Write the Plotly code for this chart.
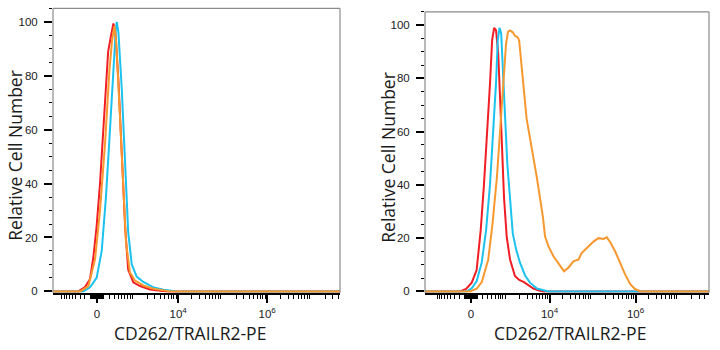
import numpy as np
import plotly.graph_objects as go

# ---------------- data (fluorescence intensity vs relative cell number) ----------------
left_red_x = [-2000, -338, -199, -111, -56, -7, 46, 98, 159, 182, 237, 285, 327, 404, 498, 606, 722, 956, 1370, 2313, 3939, 6000, 1e8]
left_red_y = [0, 0, 1.6, 4.6, 13, 24, 40, 59, 80, 89, 95, 99.4, 96.5, 78, 51, 24, 8, 3.4, 2, 0.7, 0.25, 0, 0]

left_cyan_x = [-2000, -233, -111, -7, 73, 143, 216, 285, 338, 362, 404, 498, 606, 722, 879, 1144, 1631, 2697, 4632, 8000, 9460, 1e8]
left_cyan_y = [0, 0, 1.5, 5, 15, 35, 60, 85, 97, 100, 96, 75, 45, 22, 10, 5.5, 3.5, 1.6, 0.6, 0.25, 0, 0]

left_orange_x = [-2000, -297, -139, -31, 46, 128, 205, 257, 307, 352, 426, 528, 639, 798, 1048, 1631, 2754, 5520, 6500, 1e8]
left_orange_y = [0, 0, 2, 12, 30, 55, 82, 93, 98.5, 92, 70, 42, 18, 7, 4, 2.2, 1.0, 0.2, 0, 0]

right_red_x = [-2000, -187, -81, 11, 91, 162, 224, 297, 359, 416, 472, 532, 606, 680, 759, 852, 990, 1190, 1556, 1965, 2481, 3201, 4224, 5970, 7176, 1e8]
right_red_y = [0, 0, 0.9, 3.3, 8, 23, 40, 60, 78, 94.5, 99, 98, 89.5, 72, 54, 35, 20.5, 12, 5.8, 4.3, 3.6, 2.3, 1.1, 0.25, 0, 0]

right_cyan_x = [-2000, -70, 11, 91, 182, 269, 359, 453, 532, 591, 656, 722, 790, 901, 1026, 1190, 1383, 1670, 2058, 2697, 3510, 5079, 7176, 9460, 1e8]
right_cyan_y = [0, 0, 1.2, 3.8, 11, 23, 40, 60, 78.4, 94.5, 99, 97, 86, 66, 47.7, 33, 21.8, 15.6, 10.7, 6, 3.3, 1.1, 0.4, 0, 0]

right_orange_x = [-2000, -16, 91, 182, 317, 426, 560, 680, 817, 953, 1063, 1190, 1383, 1556, 1709, 1878, 1965, 2130, 2481, 2919, 3510,
                  4224, 5079, 5970, 7014, 7869, 9460, 12330, 17610, 21690, 27300, 36000, 47430, 55740, 73500, 105000,
                  136800, 180300, 214500, 266700, 336000, 438000, 570600, 752400, 969000, 1277000, 1847700, 1e8]
right_orange_y = [0, 0, 1, 3.5, 12, 25.5, 42.7, 60, 78.4, 93, 97.5, 98, 97.3, 96, 95.7, 95, 94, 87, 77, 65, 57.5,
                  51.4, 42.7, 35.3, 28, 20.6, 16.9, 13.2, 9.5, 7.6, 8.9, 11.3, 12, 14.4, 16.3, 18.7,
                  20, 19.7, 20.3, 18.1, 15, 10.7, 6.4, 2.7, 0.9, 0.1, 0, 0]

# axis ticks (intensity values) and labels
x_label_vals = [0, 1e4, 1e6]
x_label_text = ["0", "10<sup>4</sup>", "10<sup>6</sup>"]
x_major_unlabeled = [-1000, 1000, 1e5, 1e7]
x_minor_vals = ([-m * 100 for m in range(1, 10)] + [-m * 10 for m in range(1, 10)] +
                [m * 10 for m in range(1, 10)] + [m * 100 for m in range(1, 10)] +
                [m * 10 ** e for e in range(3, 7) for m in range(2, 10)] + [2e7, 3e7, 4e7])
y_major_vals = [0, 20, 40, 60, 80, 100]
x_title = "CD262/TRAILR2-PE"
y_title = "Relative Cell Number"

# ---------------- biexponential-like display transform ----------------
COF = 300.0


def T(v):
    return np.arcsinh(np.asarray(v, dtype=float) / COF) / np.log(10)


RED = "#f01d25"
CYAN = "#1cc2ee"
ORANGE = "#f7982f"

fig = go.Figure()
panels = [
    ("x", "y", [(left_red_x, left_red_y, RED), (left_cyan_x, left_cyan_y, CYAN), (left_orange_x, left_orange_y, ORANGE)]),
    ("x2", "y2", [(right_red_x, right_red_y, RED), (right_cyan_x, right_cyan_y, CYAN), (right_orange_x, right_orange_y, ORANGE)]),
]
for xa, ya, series in panels:
    for xs, ys, col in series:
        fig.add_trace(go.Scatter(x=T(xs), y=ys, mode="lines", xaxis=xa, yaxis=ya,
                                 line=dict(color=col, width=2), showlegend=False, hoverinfo="skip"))

W, H = 720, 350
tick_font = dict(family="Liberation Sans, Arial, sans-serif", size=11.5, color="#1a1a1a")
title_font = dict(family="Open Sans, sans-serif", size=17.5, color="#1a1a1a")


def xaxis_cfg(px0, px1, rng):
    return dict(domain=[px0 / W, px1 / W], range=rng, showgrid=False, zeroline=False,
                showline=True, linecolor="black", linewidth=1.5, layer="below traces",
                tickmode="array", tickvals=T(x_label_vals).tolist(), ticktext=x_label_text,
                ticks="outside", ticklen=8, tickwidth=1.5, tickcolor="black",
                ticklabelstandoff=2, tickfont=tick_font,
                minor=dict(tickmode="array", tickvals=T(x_minor_vals).tolist(), ticks="outside",
                           ticklen=4, tickwidth=1, tickcolor="black"))


def xaxis_extra(px0, px1, rng, over, anchor):
    # carries only the long unlabeled decade ticks (as minor ticks, so no empty labels)
    return dict(domain=[px0 / W, px1 / W], range=rng, overlaying=over, anchor=anchor,
                showgrid=False, zeroline=False, showline=False, layer="below traces",
                tickmode="array", tickvals=[], ticks="", showticklabels=False,
                minor=dict(tickmode="array", tickvals=T(x_major_unlabeled).tolist(), ticks="outside",
                           ticklen=8, tickwidth=1.5, tickcolor="black"))


def yaxis_cfg(py_top, anchor):
    return dict(domain=[1 - 297 / H, 1 - py_top / H], range=[-0.5, 105], anchor=anchor,
                showgrid=False, zeroline=False, showline=False,
                tickmode="array", tickvals=y_major_vals, ticks="outside", ticklen=8, tickwidth=2,
                tickcolor="black", tickfont=tick_font, ticklabelstandoff=4,
                minor=dict(dtick=5, ticks="outside", ticklen=3.5, tickwidth=1, tickcolor="black"))


L = (53, 340, [-0.99, 5.46])
R = (425, 709, [-1.07, 5.53])
fig.update_layout(
    width=W, height=H, margin=dict(l=0, r=0, t=0, b=0),
    paper_bgcolor="white", plot_bgcolor="white",
    xaxis=dict(**xaxis_cfg(*L), anchor="y"),
    yaxis=yaxis_cfg(8.5, "x"),
    xaxis2=dict(**xaxis_cfg(*R), anchor="y2"),
    yaxis2=yaxis_cfg(12, "x2"),
    xaxis3=xaxis_extra(*L, "x", "y"),
    xaxis4=xaxis_extra(*R, "x2", "y2"),
)

# gray frame (left, top, right)
for xr, yr in [("x domain", "y domain"), ("x2 domain", "y2 domain")]:
    for (x0, y0, x1, y1) in [(0, 0, 0, 1), (0, 1, 1, 1), (1, 0, 1, 1)]:
        fig.add_shape(type="line", xref=xr, yref=yr, x0=x0, y0=y0, x1=x1, y1=y1,
                      line=dict(color="#8a8a8a", width=1.2))

# axis titles
for xc, yc in [(15, 158), (388, 160)]:
    fig.add_annotation(text=y_title, xref="paper", yref="paper", x=xc / W, y=1 - yc / H,
                       textangle=-90, showarrow=False, xanchor="center", yanchor="middle", font=title_font)
for xc in [189.5, 570]:
    fig.add_annotation(text=x_title, xref="paper", yref="paper", x=xc / W, y=1 - 338 / H,
                       showarrow=False, xanchor="center", yanchor="middle", font=title_font)

fig.write_html("out.html")
